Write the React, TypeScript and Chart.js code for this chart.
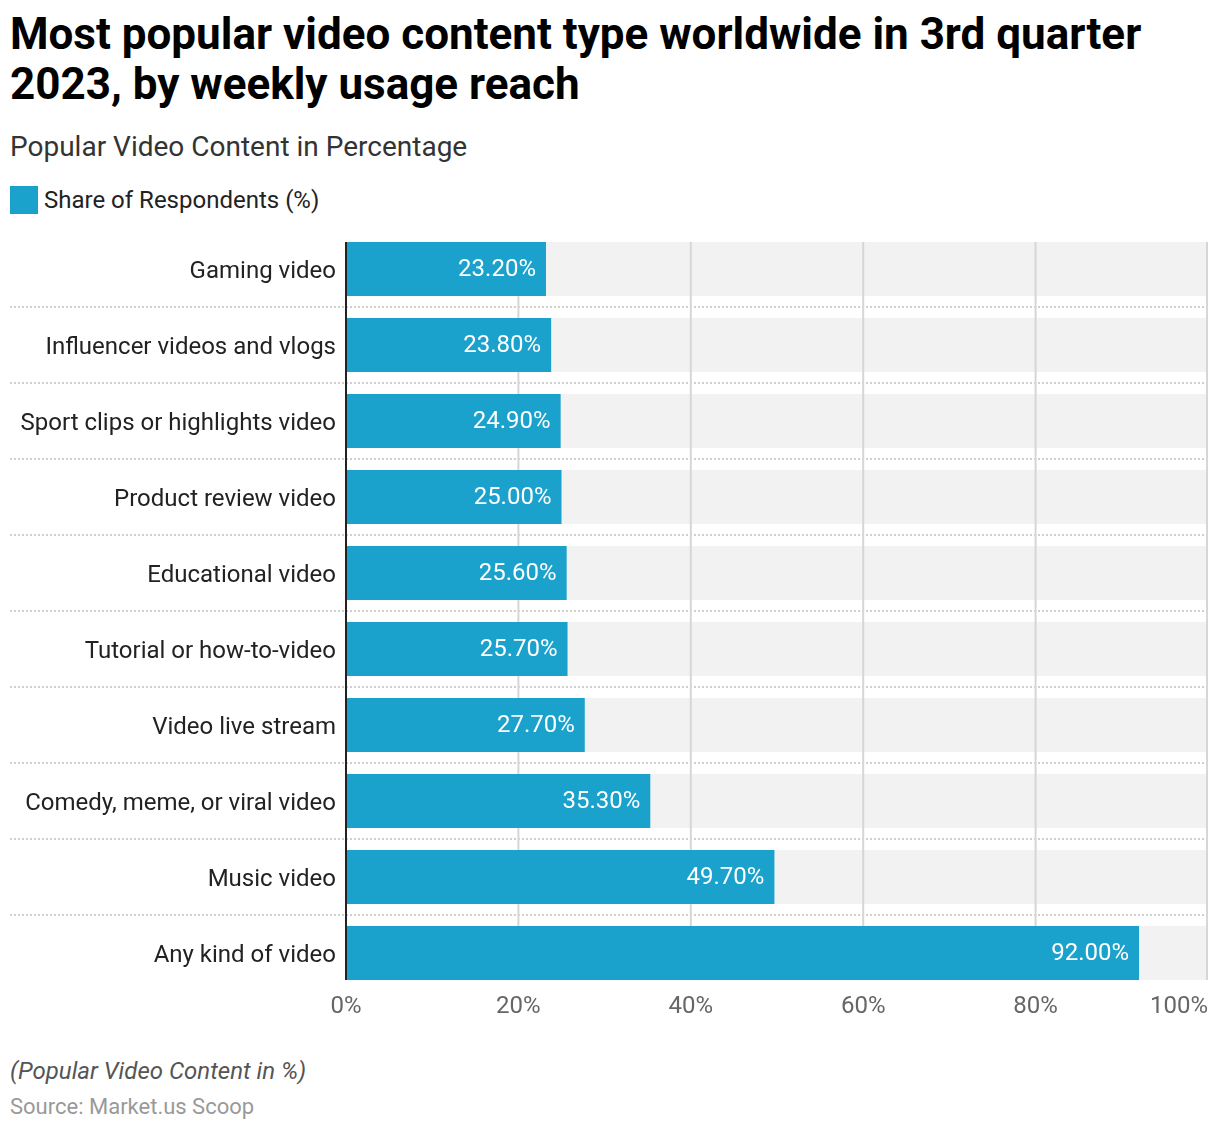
import React, { useEffect, useRef } from "react";
import { Chart, registerables } from "chart.js";

Chart.register(...registerables);

const categories = [
  "Gaming video",
  "Influencer videos and vlogs",
  "Sport clips or highlights video",
  "Product review video",
  "Educational video",
  "Tutorial or how-to-video",
  "Video live stream",
  "Comedy, meme, or viral video",
  "Music video",
  "Any kind of video",
];
const shareValues = [23.2, 23.8, 24.9, 25.0, 25.6, 25.7, 27.7, 35.3, 49.7, 92.0];
const xTicks = [0, 20, 40, 60, 80, 100];
const seriesLabel = "Share of Respondents (%)";

const BAR = "#1aa1cc";
const FONT = "Roboto, 'Noto Sans', sans-serif";

const decorPlugin = {
  id: "decor",
  beforeDraw(chart: any) {
    const { ctx, chartArea, scales } = chart;
    const x = scales.x;
    const meta = chart.getDatasetMeta(0);
    const els = meta.data;
    if (!els.length) return;
    ctx.save();
    // grey bands
    ctx.fillStyle = "#f2f2f2";
    const xMax = x.getPixelForValue(100);
    els.forEach((el: any) => {
      const h = el.height;
      ctx.fillRect(chartArea.left, el.y - h / 2, xMax - chartArea.left, h);
    });
    // dotted separators
    ctx.strokeStyle = "#cfcfcf";
    ctx.lineWidth = 2;
    ctx.setLineDash([2, 2]);
    for (let i = 0; i < els.length - 1; i++) {
      const yy = Math.round((els[i].y + els[i + 1].y) / 2);
      ctx.beginPath();
      ctx.moveTo(10, yy);
      ctx.lineTo(chartArea.right, yy);
      ctx.stroke();
    }
    ctx.setLineDash([]);
    // gridlines
    const top = els[0].y - els[0].height / 2;
    const last = els[els.length - 1];
    const bottom = last.y + last.height / 2;
    ctx.strokeStyle = "#d6d6d6";
    ctx.lineWidth = 2;
    xTicks.forEach((v) => {
      if (v === 0) return;
      let px = x.getPixelForValue(v);
      if (v === 100) px -= 1;
      ctx.beginPath();
      ctx.moveTo(px, top);
      ctx.lineTo(px, bottom);
      ctx.stroke();
    });
    ctx.restore();
  },
  afterDatasetsDraw(chart: any) {
    const { ctx, chartArea, scales } = chart;
    const x = scales.x;
    const meta = chart.getDatasetMeta(0);
    const els = meta.data;
    ctx.save();
    // value labels
    ctx.fillStyle = "#ffffff";
    ctx.font = `24px ${FONT}`;
    ctx.textAlign = "right";
    ctx.textBaseline = "middle";
    els.forEach((el: any, i: number) => {
      ctx.fillText(shareValues[i].toFixed(2) + "%", el.x - 10, el.y + 1);
    });
    // axis line
    const top = els[0].y - els[0].height / 2;
    const last = els[els.length - 1];
    const bottom = last.y + last.height / 2;
    ctx.strokeStyle = "#222222";
    ctx.lineWidth = 2;
    ctx.beginPath();
    ctx.moveTo(chartArea.left, top);
    ctx.lineTo(chartArea.left, bottom);
    ctx.stroke();
    // x tick labels
    ctx.fillStyle = "#666666";
    ctx.font = `24px ${FONT}`;
    ctx.textBaseline = "middle";
    xTicks.forEach((v, i) => {
      const px = x.getPixelForValue(v);
      const label = v + "%";
      if (i === xTicks.length - 1) {
        ctx.textAlign = "right";
        ctx.fillText(label, chartArea.right, chartArea.bottom + 16);
      } else {
        ctx.textAlign = "center";
        ctx.fillText(label, px, chartArea.bottom + 16);
      }
    });
    ctx.restore();
  },
};

export default function App() {
  const ref = useRef<HTMLCanvasElement | null>(null);
  useEffect(() => {
    if (!ref.current) return;
    const chart = new Chart(ref.current, {
      type: "bar",
      data: {
        labels: categories,
        datasets: [
          {
            label: seriesLabel,
            data: shareValues,
            backgroundColor: BAR,
            borderWidth: 0,
            barPercentage: 1,
            categoryPercentage: 54 / 76,
          },
        ],
      },
      options: {
        indexAxis: "y",
        animation: false,
        responsive: false,
        maintainAspectRatio: false,
        layout: { padding: { left: 0, right: 12, top: 6, bottom: 44 } },
        plugins: {
          legend: { display: false },
          tooltip: { enabled: false },
        },
        scales: {
          x: {
            min: 0,
            max: 100,
            display: true,
            grid: { display: false, drawTicks: false },
            border: { display: false },
            ticks: { display: false, stepSize: 20 },
            afterFit: (s: any) => {
              s.height = 0;
              s.paddingLeft = 0;
              s.paddingRight = 0;
              s.paddingTop = 0;
              s.paddingBottom = 0;
            },
          },
          y: {
            grid: { display: false, drawTicks: false },
            border: { display: false },
            ticks: {
              color: "#222222",
              padding: 10,
              labelOffset: 3,
              font: { family: FONT, size: 24 },
            },
            afterFit: (s: any) => {
              s.width = 346;
              s.paddingTop = 0;
              s.paddingBottom = 0;
              s.paddingLeft = 0;
              s.paddingRight = 0;
            },
          },
        },
      },
      plugins: [decorPlugin],
    });
    return () => chart.destroy();
  }, []);

  return (
    <div
      style={{
        position: "absolute",
        left: 0,
        top: 0,
        width: 1220,
        height: 1132,
        background: "#fff",
        fontFamily: FONT,
      }}
    >
      <div
        style={{
          position: "absolute",
          left: 10,
          top: 9,
          width: 1200,
          fontSize: 44,
          lineHeight: "50px",
          fontWeight: 700,
          color: "#000",
        }}
      >
        Most popular video content type worldwide in 3rd quarter 2023, by weekly usage reach
      </div>
      <div
        style={{
          position: "absolute",
          left: 10,
          top: 131,
          fontSize: 28,
          lineHeight: "32px",
          color: "#333",
        }}
      >
        Popular Video Content in Percentage
      </div>
      <div
        style={{
          position: "absolute",
          left: 10,
          top: 186,
          display: "flex",
          alignItems: "center",
          fontSize: 24,
          color: "#222",
        }}
      >
        <span
          style={{
            display: "inline-block",
            width: 28,
            height: 28,
            background: BAR,
            marginRight: 6,
          }}
        />
        <span>{seriesLabel}</span>
      </div>
      <canvas
        ref={ref}
        width={1220}
        height={810}
        style={{ position: "absolute", left: 0, top: 225, width: 1220, height: 810 }}
      />
      <div
        style={{
          position: "absolute",
          left: 10,
          top: 1057,
          fontSize: 24,
          fontStyle: "italic",
          color: "#555",
        }}
      >
        (Popular Video Content in %)
      </div>
      <div
        style={{
          position: "absolute",
          left: 10,
          top: 1094,
          fontSize: 22,
          color: "#999",
        }}
      >
        Source: Market.us Scoop
      </div>
    </div>
  );
}
